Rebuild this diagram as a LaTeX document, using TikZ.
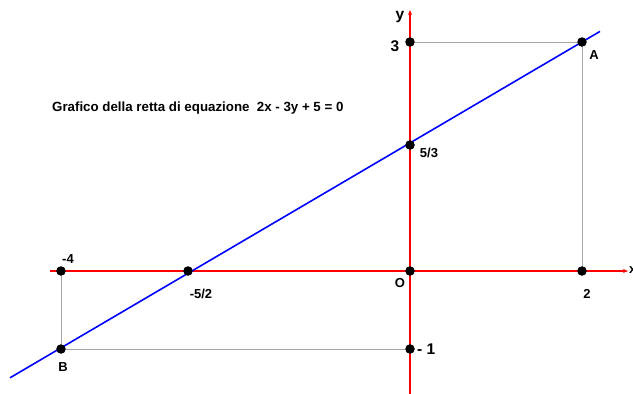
\documentclass[tikz,border=0pt]{standalone}
\usepackage{fontspec}
\setmainfont{Liberation Sans}
\usetikzlibrary{arrows.meta}
\begin{document}
\begin{tikzpicture}[x=1pt,y=-1pt,
  axis/.style={red,line width=1.6pt,-{Stealth[length=5pt,width=4pt]}},
  guide/.style={gray!70,line width=0.8pt},
  retta/.style={blue,line width=1.6pt},
  pt/.style={circle,fill=black,inner sep=0pt,minimum size=9pt},
  lab/.style={font=\bfseries\fontsize{13}{15}\selectfont,inner sep=0pt},
  biglab/.style={font=\bfseries\fontsize{15.5}{17}\selectfont,inner sep=0pt}]
\useasboundingbox (0,0) rectangle (633,394);
% coordinates
\coordinate (xs) at (50,271);
\coordinate (xe) at (628,271);
\coordinate (ys) at (410,394);
\coordinate (ye) at (410,10);
\coordinate (ls) at (10,377.8);
\coordinate (le) at (600,31.4);
% axes
\draw[axis] (xs) -- (xe);
\draw[axis] (ys) -- (ye);
% points
\node[pt] (O) at (410,271) {};
\node[pt] (A) at (582,42) {};
\node[pt] (B) at (61,349) {};
\node[pt] (p53) at (410,145) {};
\node[pt] (p52) at (188,271) {};
\node[pt] (m4) at (61,271) {};
\node[pt] (d2) at (582,271) {};
\node[pt] (t3) at (410,42) {};
\node[pt] (m1) at (410,349) {};
\draw[guide] (t3.center) -- (A.center) -- (d2.center);
\draw[guide] (m4.center) -- (B.center) -- (m1.center);
\draw[retta] (ls) -- (le);
\foreach \n in {O,A,B,p53,p52,m4,d2,t3,m1}{\fill (\n) circle (4.7pt);}
% labels
\node[biglab] (ly) at (400,17) {y};
\node[biglab] (l3) at (395,46) {3};
\node[lab] (lA) at (594,55) {A};
\node[lab] (l53) at (429,153) {5/3};
\node[lab] (lO) at (400,283) {O};
\node[lab] (l2) at (587,294) {2};
\node[lab] (lm4) at (68,259) {-4};
\node[lab] (l52) at (201,294) {-5/2};
\node[lab] (lB) at (63,367) {B};
\node[biglab,anchor=west] (lm1) at (417,349) {- 1};
\node[lab,anchor=west] (lx) at (629,270) {x};
\node[font=\bfseries\fontsize{13.3}{15}\selectfont,inner sep=0pt,anchor=west] (title) at (52,108) {Grafico della retta di equazione\ \ 2x - 3y + 5 = 0};
\end{tikzpicture}
\end{document}
